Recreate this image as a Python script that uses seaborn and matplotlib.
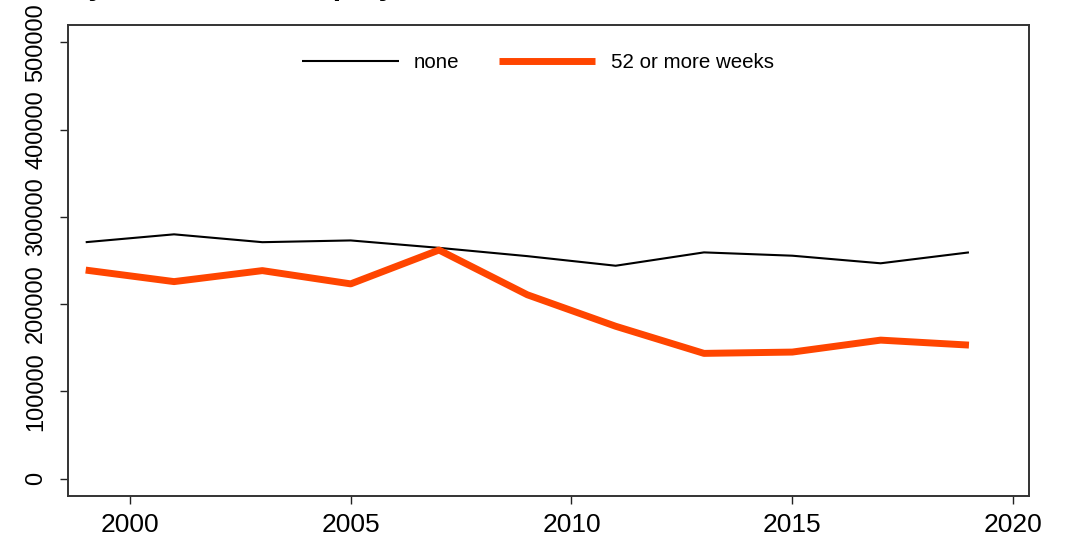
import matplotlib
matplotlib.use('Agg')
import matplotlib.pyplot as plt
import pandas as pd
import seaborn as sns

# valores (anos ímpares 1999-2019)
anos = [1999, 2001, 2003, 2005, 2007, 2009, 2011, 2013, 2015, 2017, 2019]
none_vals = [271000, 280000, 271000, 273000, 264500, 255000, 244000, 259300, 255500, 246800, 259300]
weeks52_vals = [239000, 225800, 238400, 223200, 262000, 210700, 174600, 143500, 145000, 158700, 153000]
series_labels = ['none', '52 or more weeks']
y_ticks = [0, 100000, 200000, 300000, 400000, 500000]
x_ticks = [2000, 2005, 2010, 2015, 2020]

df = pd.DataFrame({
    'ano': anos * 2,
    'valor': none_vals + weeks52_vals,
    'grupo': [series_labels[0]] * len(anos) + [series_labels[1]] * len(anos),
})

sns.set_style('white')
plt.rcParams['font.family'] = ['Liberation Sans', 'DejaVu Sans']
plt.rcParams['text.color'] = 'black'
plt.rcParams['xtick.color'] = 'black'
plt.rcParams['ytick.color'] = 'black'

fig = plt.figure(figsize=(10.68, 5.37), dpi=100)
ax = fig.add_axes([0.0637, 0.0764, 0.8998, 0.877])

sns.lineplot(
    data=df, x='ano', y='valor', hue='grupo', size='grupo',
    sizes={'none': 1.5, '52 or more weeks': 5},
    palette={'none': 'black', '52 or more weeks': '#FF4500'},
    ax=ax,
)
for ln in ax.get_lines():
    ln.set_solid_capstyle('butt')

ax.set_xlim(1998.6, 2020.36)
ax.set_ylim(-20000, 520000)
ax.set_xticks(x_ticks)
ax.set_yticks(y_ticks)
ax.set_xticklabels([str(t) for t in x_ticks], fontsize=19)
ax.set_yticklabels([str(t) for t in y_ticks], fontsize=17, rotation=90, va='center')
ax.set_xlabel('')
ax.set_ylabel('')
ax.tick_params(axis='both', direction='out', length=6, width=1, color='#222222',
               bottom=True, left=True)
ax.tick_params(axis='x', pad=6)
ax.tick_params(axis='y', pad=9)
for s in ax.spines.values():
    s.set_linewidth(1.4)
    s.set_color('#333333')

handles, labels = ax.get_legend_handles_labels()
leg = ax.legend(handles, labels, loc='upper center', bbox_to_anchor=(0.489, 0.980),
                ncol=2, frameon=False, fontsize=14.8, handlelength=4.7,
                handletextpad=0.75, columnspacing=1.9)
for h in leg.get_lines():
    h.set_solid_capstyle('butt')

# título cortado no topo (só os descendentes aparecem)
renderer = fig.canvas.get_renderer()
prefixo = fig.text(0, 0, 'Household income ', fontsize=22, fontweight='bold')
largura = prefixo.get_window_extent(renderer).width
prefixo.remove()
fig.text((70 - largura) / 1068, 1.0 + 5.6 / 537,
         'Household income by weeks of unemployment',
         fontsize=22, fontweight='bold', ha='left', va='baseline')

plt.savefig('out.png', dpi=100)
plt.close()
